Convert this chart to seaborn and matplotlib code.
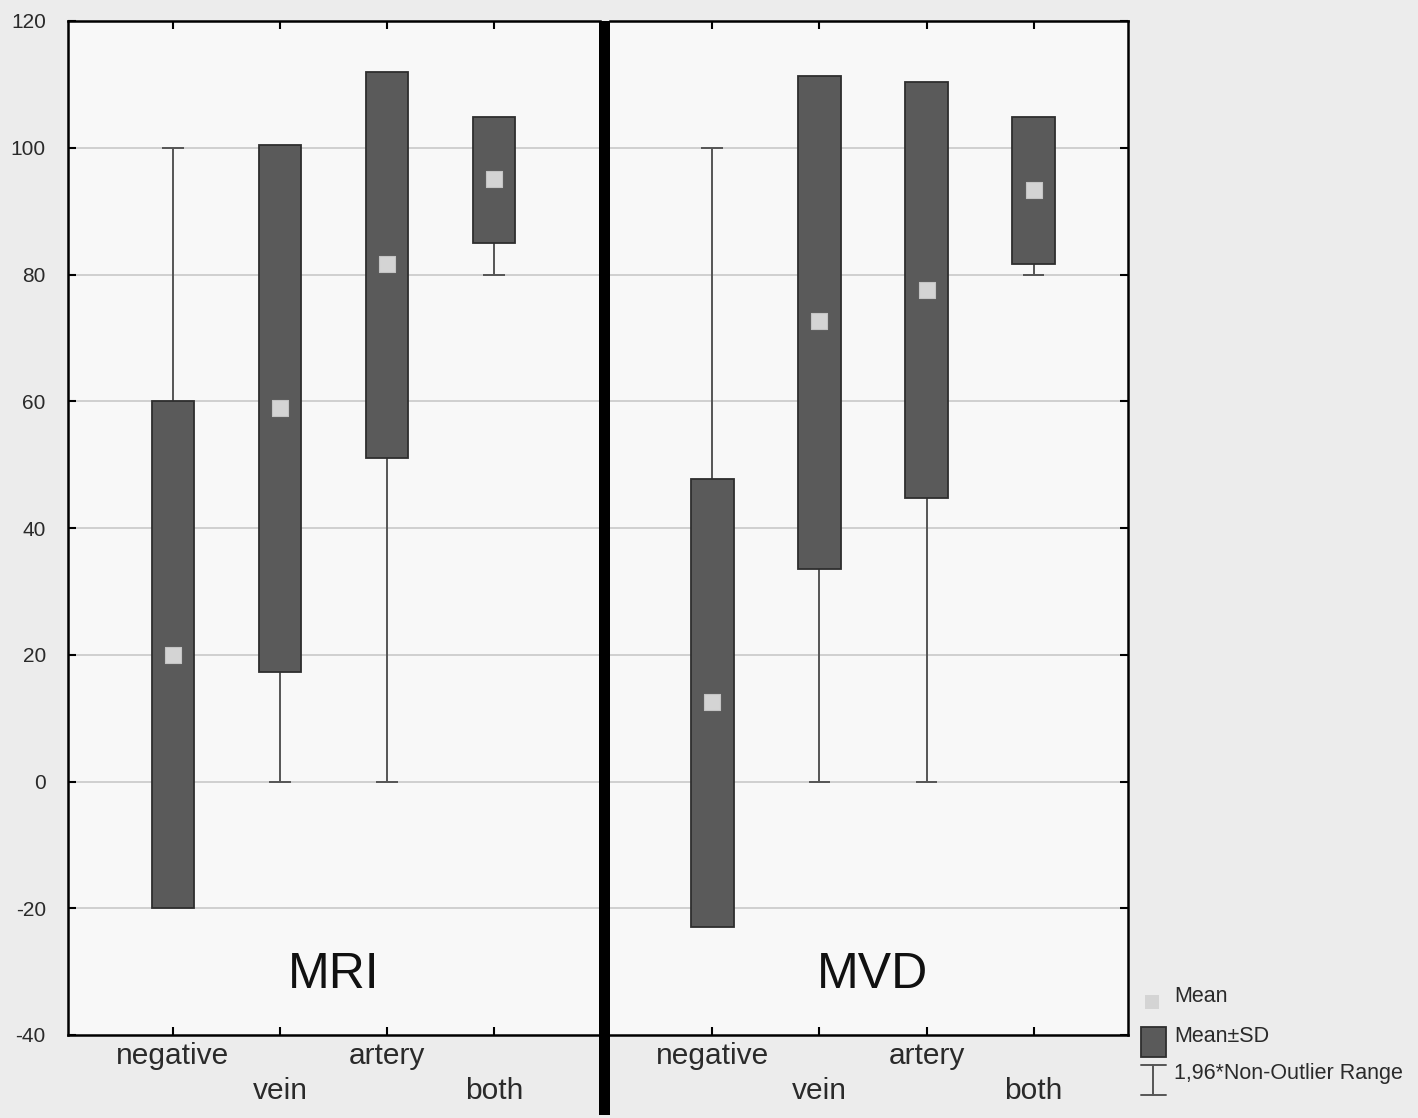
import matplotlib as mpl
import matplotlib.pyplot as plt
from matplotlib.patches import Rectangle
import numpy as np
import pandas as pd
import seaborn as sns

# categories and values (mean, mean-SD, mean+SD, whisker range)
categories = ["negative", "vein", "artery", "both"]
tick_labels = ["negative", "\nvein", "artery", "\nboth"]

mri_mean = [20.0, 58.9, 81.7, 95.0]
mri_sd_lo = [-20.0, 17.3, 51.1, 85.0]
mri_sd_hi = [60.0, 100.5, 111.9, 104.9]
mri_wh_lo = [0.0, 0.0, 0.0, 80.0]
mri_wh_hi = [100.0, 100.0, 100.0, 100.0]

mvd_mean = [12.6, 72.6, 77.5, 93.4]
mvd_sd_lo = [-22.9, 33.5, 44.8, 81.6]
mvd_sd_hi = [47.7, 111.4, 110.3, 104.8]
mvd_wh_lo = [0.0, 0.0, 0.0, 80.0]
mvd_wh_hi = [100.0, 100.0, 100.0, 100.0]

panels = ["MRI", "MVD"]

BOX = "#5a5a5a"
BOX_EDGE = "#2e2e2e"
MEAN_C = "#d4d4d4"
WHISK = "#555555"
TXT = "#2a2a2a"

sns.set_theme(style="white")
plt.rcParams['font.family'] = ['Liberation Sans', 'DejaVu Sans']
plt.rcParams['axes.unicode_minus'] = False

fig = plt.figure(figsize=(14.18, 11.18), dpi=100, facecolor="#ececec")
W, H = 1418.0, 1118.0
ax1 = fig.add_axes([68 / W, 1 - 1035 / H, (600 - 68) / W, (1035 - 21) / H])
ax2 = fig.add_axes([610 / W, 1 - 1035 / H, (1128 - 610) / W, (1035 - 21) / H])


def draw_panel(ax, name, mean, lo, hi, wlo, whi, xlim):
    df = pd.DataFrame({"cat": categories, "mean": mean, "lo": lo, "hi": hi,
                       "wlo": wlo, "whi": whi})
    xs = np.arange(len(categories))
    ax.set_facecolor("#f8f8f8")
    for y in range(-20, 101, 20):
        ax.axhline(y, color="#c9c9c9", lw=1.2, zorder=0)
    # whiskers
    ax.vlines(xs, df["wlo"], df["whi"], color=WHISK, lw=1.4, zorder=1)
    ax.hlines(df["wlo"], xs - 0.1, xs + 0.1, color=WHISK, lw=1.4, zorder=1)
    ax.hlines(df["whi"], xs - 0.1, xs + 0.1, color=WHISK, lw=1.4, zorder=1)
    # mean +- SD boxes
    ax.bar(xs, df["hi"] - df["lo"], bottom=df["lo"], width=0.4,
           color=BOX, edgecolor=BOX_EDGE, linewidth=1.3, zorder=2)
    # means
    sns.scatterplot(x=xs, y=df["mean"], marker="s", s=125, color=MEAN_C,
                    edgecolor="#c4c4c4", linewidth=0.8, ax=ax, zorder=3,
                    legend=False)
    ax.set_xlim(*xlim)
    ax.set_ylim(-40, 120)
    ax.set_xticks(xs)
    ax.set_xticklabels(tick_labels, fontsize=21.5, color=TXT,
                       linespacing=1.3)
    ax.set_yticks(range(-40, 121, 20))
    ax.tick_params(axis="both", direction="in", length=6, width=1.5,
                   color="black", top=True, bottom=True)
    ax.tick_params(axis="x", pad=5)
    ax.set_xlabel("")
    ax.set_ylabel("")
    for s in ax.spines.values():
        s.set_color("black")
        s.set_linewidth(1.8)
    ax.text(1.5, -30.5, name, ha="center", va="center", fontsize=36,
            color="#111111")


draw_panel(ax1, panels[0], mri_mean, mri_sd_lo, mri_sd_hi, mri_wh_lo,
           mri_wh_hi, (-0.981, 3.99))
draw_panel(ax2, panels[1], mvd_mean, mvd_sd_lo, mvd_sd_hi, mvd_wh_lo,
           mvd_wh_hi, (-0.953, 3.88))

ax1.tick_params(axis="y", left=True, right=False, labelleft=True,
                labelsize=15, labelcolor=TXT, pad=16)
ax2.tick_params(axis="y", left=False, right=True, labelleft=False,
                labelright=False)
ax1.spines["right"].set_visible(False)
ax2.spines["left"].set_visible(False)

# thick divider between panels
fig.add_artist(Rectangle((599 / W, 3 / H), 11 / W, (1035 - 21 + 80) / H,
                         transform=fig.transFigure, facecolor="black",
                         edgecolor="none", zorder=10))

# legend
lax = fig.add_axes([1130 / W, 1 - 1110 / H, 288 / W, 130 / H])
lax.set_xlim(1130, 1418)
lax.set_ylim(1110, 980)
lax.axis("off")
lax.scatter([1152], [1002], marker="s", s=110, color=MEAN_C,
            edgecolor="none")
lax.add_patch(Rectangle((1141, 1027), 25, 30, facecolor=BOX,
                        edgecolor=BOX_EDGE, lw=1.3))
lax.plot([1153, 1153], [1065, 1095], color=WHISK, lw=1.4)
lax.plot([1141, 1166], [1065, 1065], color=WHISK, lw=1.4)
lax.plot([1141, 1166], [1095, 1095], color=WHISK, lw=1.4)
for y, t in [(997, "Mean"), (1036, "Mean±SD"), (1074, "1,96*Non-Outlier Range")]:
    lax.text(1174, y, t, fontsize=15.5, color=TXT, va="center",
             ha="left")

fig.savefig("out.png", dpi=100, facecolor=fig.get_facecolor())
